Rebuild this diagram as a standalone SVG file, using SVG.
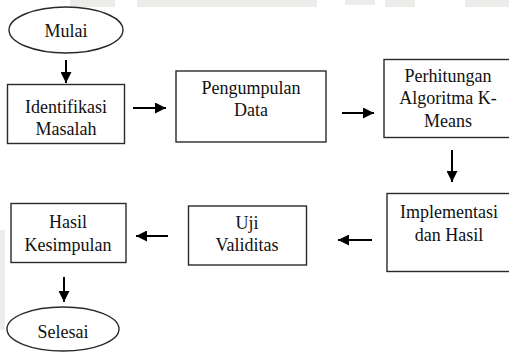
<svg xmlns="http://www.w3.org/2000/svg" width="509" height="352" viewBox="0 0 509 352">
<style>
.box{fill:#fff;stroke:#2a2a2a;stroke-width:1.4}
.t{font-family:'Liberation Serif','Times New Roman',serif;font-size:18px;fill:#111;text-anchor:middle}
.c{stroke:#000;stroke-width:2;fill:none}
.wm{fill:#ecedea}
</style>
<defs>
<marker id="ah" viewBox="0 0 10 10" refX="10" refY="5" markerWidth="5.5" markerHeight="5.5" orient="auto" markerUnits="strokeWidth">
<path d="M0,0 L10,5 L0,10 z" fill="#000"/>
</marker>
</defs>
<rect width="509" height="352" fill="#fff"/>
<g id="watermark">
<rect class="wm" x="70" y="0" width="45" height="7"/>
<rect class="wm" x="137" y="0" width="180" height="7"/>
<rect class="wm" x="345" y="0" width="30" height="5"/>
<rect class="wm" x="385" y="0" width="30" height="7"/>
<rect class="wm" x="465" y="0" width="44" height="7"/>
<rect class="wm" x="0" y="230" width="5" height="100"/>
</g>
<g id="connectors">
<line class="c" x1="66" y1="60" x2="66" y2="83" marker-end="url(#ah)"/>
<line class="c" x1="133" y1="108" x2="166" y2="108" marker-end="url(#ah)"/>
<line class="c" x1="342" y1="113" x2="374" y2="113" marker-end="url(#ah)"/>
<line class="c" x1="452" y1="150" x2="452" y2="182" marker-end="url(#ah)"/>
<line class="c" x1="372" y1="240" x2="338" y2="240" marker-end="url(#ah)"/>
<line class="c" x1="168" y1="236" x2="136" y2="236" marker-end="url(#ah)"/>
<line class="c" x1="64" y1="277" x2="64" y2="302" marker-end="url(#ah)"/>
</g>
<g id="mulai">
<ellipse class="box" cx="66" cy="30" rx="57" ry="23"/>
<text class="t" x="66" y="37">Mulai</text>
</g>
<g id="identifikasi">
<rect class="box" x="7.5" y="84.5" width="117" height="59"/>
<text class="t" x="66" y="113">Identifikasi</text>
<text class="t" x="66" y="135">Masalah</text>
</g>
<g id="pengumpulan">
<rect class="box" x="176" y="71" width="150" height="71"/>
<text class="t" x="251" y="94">Pengumpulan</text>
<text class="t" x="251" y="116">Data</text>
</g>
<g id="perhitungan">
<rect class="box" x="384" y="59.5" width="130" height="78"/>
<text class="t" x="448" y="82">Perhitungan</text>
<text class="t" x="448" y="104">Algoritma K-</text>
<text class="t" x="448" y="127">Means</text>
</g>
<g id="implementasi">
<rect class="box" x="387" y="193.5" width="130" height="78"/>
<text class="t" x="449" y="218">Implementasi</text>
<text class="t" x="449" y="241">dan Hasil</text>
</g>
<g id="uji">
<rect class="box" x="188.5" y="206" width="118" height="59"/>
<text class="t" x="247" y="229">Uji</text>
<text class="t" x="247" y="251">Validitas</text>
</g>
<g id="hasil">
<rect class="box" x="11" y="203.5" width="115" height="59"/>
<text class="t" x="68" y="228">Hasil</text>
<text class="t" x="68" y="251">Kesimpulan</text>
</g>
<g id="selesai">
<ellipse class="box" cx="63" cy="329" rx="56" ry="22"/>
<text class="t" x="63" y="338">Selesai</text>
</g>
</svg>
